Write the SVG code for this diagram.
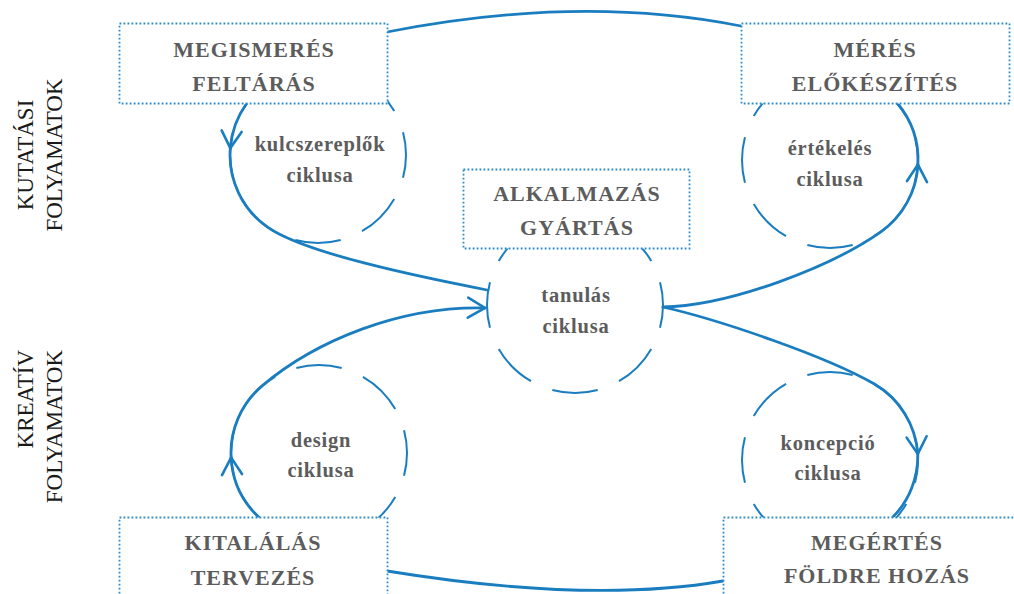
<svg xmlns="http://www.w3.org/2000/svg" width="1014" height="594" viewBox="0 0 1014 594">
  <style>
    .box { fill: #ffffff; stroke: #2a8acb; stroke-width: 1.8; stroke-dasharray: 1.8 2.2; }
    .cycle { fill: none; stroke: #1a7dbf; stroke-width: 2; stroke-dasharray: 30 15; stroke-dashoffset: 15; }
    .flow { fill: none; stroke: #1a7dbf; stroke-width: 2.8; stroke-linecap: round; }
    .title { font-family: "Liberation Serif", "Times New Roman", serif; font-weight: bold; font-size: 22px; letter-spacing: 1px; fill: #5c5c5c; text-anchor: middle; }
    .label { font-family: "Liberation Serif", "Times New Roman", serif; font-weight: bold; font-size: 20.5px; letter-spacing: 0.8px; fill: #5c5c5c; text-anchor: middle; }
    .side { font-family: "Liberation Serif", "Times New Roman", serif; font-size: 23px; fill: #1a1a1a; }
  </style>
  <defs>
    <marker id="chev" markerUnits="userSpaceOnUse" viewBox="-22 -14 26 28" markerWidth="26" markerHeight="28" refX="0" refY="0" orient="auto" overflow="visible">
      <path d="M-17,-10 L0,0 L-17,10" fill="none" stroke="#1a7dbf" stroke-width="2.6" stroke-linecap="round"/>
    </marker>
  </defs>

  <!-- side headings -->
  <g id="side-research">
    <text class="side" text-anchor="middle" transform="translate(33,155) rotate(-90)">KUTATÁSI</text>
    <text class="side" text-anchor="middle" transform="translate(62,155) rotate(-90)">FOLYAMATOK</text>
  </g>
  <g id="side-creative">
    <text class="side" text-anchor="end" transform="translate(33,350) rotate(-90)">KREATÍV</text>
    <text class="side" text-anchor="end" transform="translate(62,350) rotate(-90)">FOLYAMATOK</text>
  </g>

  <!-- cycles -->
  <g id="cycle-stakeholders">
    <circle class="cycle" cx="318" cy="155" r="88" pathLength="360"/>
    <text class="label" x="320" y="151">kulcszereplők</text>
    <text class="label" x="320" y="182">ciklusa</text>
  </g>
  <g id="cycle-evaluation">
    <circle class="cycle" cx="830" cy="160" r="88" pathLength="360"/>
    <text class="label" x="830" y="155">értékelés</text>
    <text class="label" x="830" y="186">ciklusa</text>
  </g>
  <g id="cycle-learning">
    <circle class="cycle" cx="575" cy="305" r="88" pathLength="360"/>
    <text class="label" x="576" y="302">tanulás</text>
    <text class="label" x="576" y="333">ciklusa</text>
  </g>
  <g id="cycle-design">
    <circle class="cycle" cx="319" cy="453" r="88" pathLength="360"/>
    <text class="label" x="321" y="447">design</text>
    <text class="label" x="321" y="477">ciklusa</text>
  </g>
  <g id="cycle-concept">
    <circle class="cycle" cx="830" cy="460" r="88" pathLength="360"/>
    <text class="label" x="828" y="450">koncepció</text>
    <text class="label" x="828" y="480">ciklusa</text>
  </g>

  <!-- connectors -->
  <g id="connectors">
    <path class="flow" d="M387,32 Q580,-6 741,26"/>
    <path class="flow" d="M387,571 Q590,604 723,581"/>
    <g id="flow-stakeholders">
      <path class="flow" marker-end="url(#chev)" d="M246.8,103.3 A88,88 0 0 0 230.3,148.1"/>
      <path class="flow" d="M230.3,148.1 A88,88 0 0 0 267.5,227.1 C304.4,252.9 415,276 487,290"/>
    </g>
    <g id="flow-design">
      <path class="flow" marker-end="url(#chev)" d="M258.6,517 A88,88 0 0 1 231.1,457.6"/>
      <path class="flow" marker-end="url(#chev)" d="M231.1,457.6 A88,88 0 0 1 262.4,385.6 C316,340.6 400,306 485,308"/>
    </g>
    <g id="flow-evaluation">
      <path class="flow" marker-end="url(#chev)" d="M663,307 C730,306 831.4,266.5 880.5,232.1 A88,88 0 0 0 917.9,164.6"/>
      <path class="flow" d="M917.9,164.6 A88,88 0 0 0 897.1,103"/>
    </g>
    <g id="flow-concept">
      <path class="flow" marker-end="url(#chev)" d="M663,307 C720,320 826.4,356.3 874,383.8 A88,88 0 0 1 917.8,453.9"/>
      <path class="flow" d="M917.8,453.9 A88,88 0 0 1 893,517"/>
    </g>
  </g>

  <!-- process boxes -->
  <g id="box-discovery">
    <rect class="box" x="119.5" y="23.5" width="268" height="80"/>
    <text class="title" x="254" y="57">MEGISMERÉS</text>
    <text class="title" x="254" y="91">FELTÁRÁS</text>
  </g>
  <g id="box-measurement">
    <rect class="box" x="741.5" y="23.5" width="268" height="80"/>
    <text class="title" x="875" y="57">MÉRÉS</text>
    <text class="title" x="875" y="91">ELŐKÉSZÍTÉS</text>
  </g>
  <g id="box-production">
    <rect class="box" x="463.5" y="169.5" width="226" height="79"/>
    <text class="title" x="577" y="201">ALKALMAZÁS</text>
    <text class="title" x="577" y="235">GYÁRTÁS</text>
  </g>
  <g id="box-invention">
    <rect class="box" x="119.5" y="517.5" width="268" height="90"/>
    <text class="title" x="253" y="550">KITALÁLÁS</text>
    <text class="title" x="253" y="585">TERVEZÉS</text>
  </g>
  <g id="box-grounding">
    <rect class="box" x="723.5" y="517.5" width="308" height="90"/>
    <text class="title" x="877" y="550">MEGÉRTÉS</text>
    <text class="title" x="877" y="583">FÖLDRE HOZÁS</text>
  </g>
</svg>
